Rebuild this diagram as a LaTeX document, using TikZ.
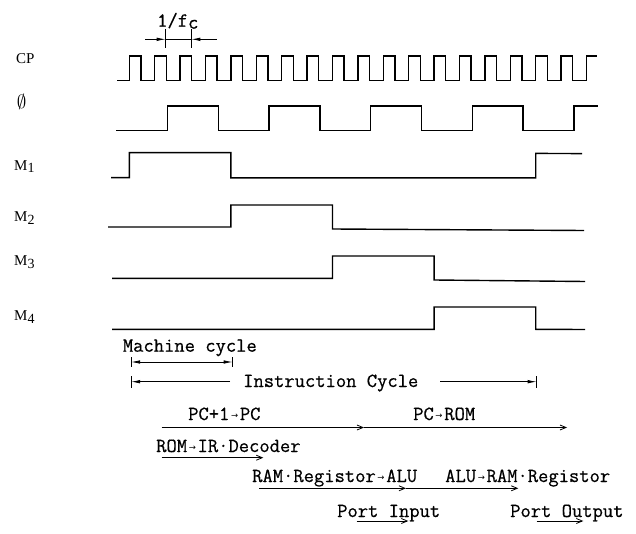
\documentclass[tikz,border=0pt]{standalone}
\usepackage{fontspec}
\newfontfamily\arrfont{DejaVu Sans}
\newfontfamily\lblfont{Liberation Serif}
\newfontfamily\monofont{Latin Modern Mono}[FakeBold=0.6]
\usetikzlibrary{arrows.meta}
\newcommand{\ra}{\makebox[0.525em]{\raisebox{1.5pt}{\arrfont\fontsize{8.5}{8.5}\selectfont →}}}
\begin{document}
\begin{tikzpicture}[x=1pt,y=-1pt,
  wave/.style={line width=1.4pt, line join=miter},
  lbl/.style={font=\lblfont\fontsize{15}{15}\selectfont, inner sep=0pt, anchor=base west},
  txt/.style={font=\monofont\fontsize{20}{20}\selectfont, inner sep=0pt, anchor=base west},
  flow/.style={line width=0.8pt, -{Straight Barb[length=6pt,width=5pt]}},
  dimarr/.style={line width=0.8pt, -{Latex[length=9pt,width=3.5pt]}},
  tick/.style={line width=0.8pt}]
\useasboundingbox (0,0) rectangle (636,534);
\fill[white] (0,0) rectangle (636,534);

% signal labels
\node[lbl] (lCP) at (16,63.5) {CP};
\node[inner sep=0pt] (lphi) at (21.5,101.5) {\scalebox{1.9}{$\emptyset$}};
\node[lbl] (lM1) at (14,170.5) {M\raisebox{-2pt}{\fontsize{14}{14}\selectfont 1}};
\node[lbl] (lM2) at (14,222) {M\raisebox{-2.5pt}{\fontsize{14}{14}\selectfont 2}};
\node[lbl] (lM3) at (14,265.5) {M\raisebox{-2.5pt}{\fontsize{14}{14}\selectfont 3}};
\node[lbl] (lM4) at (14,320.5) {M\raisebox{-2.5pt}{\fontsize{14}{14}\selectfont 4}};

% CP
\draw[wave] (117,80.7) -| (129.3,56)
  \foreach \k in {0,...,17}{ -- ++(11.5,0) -- ++(0,24.7) -- ++(13.9,0) -- ++(0,-24.7)}
  -- ++(10.5,0);
% phi
\draw[wave] (116,130.7) -| (167.4,106)
  \foreach \k in {0,...,3}{ -- ++(50.8,0) -- ++(0,24.7) -- ++(50.8,0) -- ++(0,-24.7)}
  -- ++(24.2,0);
% M1..M4
\draw[wave] (111,177.7) -| (129.3,152.7) -| (230.9,177.9) -| (535.7,153.4) -- (582,153.6);
\draw[wave] (108,227) -| (230.9,205) -| (332.5,229) -- (584,230.5);
\draw[wave] (112,278.3) -| (332.5,256) -| (434.1,280) -- (585,281.5);
\draw[wave] (112,329.3) -| (434.1,307) -| (535.7,329.3) -- (585,329.5);

% 1/fc
\node[txt] (lfc) at (157,26.7) {1/f\raisebox{-2pt}{c}};
\coordinate (fcL0) at (145,39.3);
\coordinate (fcA) at (165.7,39.3);
\coordinate (fcB) at (191.3,39.3);
\coordinate (fcR0) at (216.7,39.3);
\draw[tick] (165.7,29) -- (165.7,48);
\draw[tick] (191.3,29) -- (191.3,48);
\draw[tick] (fcA) -- (fcB);
\draw[dimarr] (fcL0) -- (fcA);
\draw[dimarr] (fcR0) -- (fcB);

% Machine cycle
\node[txt] (lmc) at (122.7,351.7) {Machine cycle};
\coordinate (mcL) at (131,362);
\coordinate (mcR) at (232.7,362);
\coordinate (mcM) at (182,362);
\draw[tick] (131,357) -- (131,367);
\draw[tick] (232.7,357) -- (232.7,367);
\draw[dimarr] (mcM) -- (mcL);
\draw[dimarr] (mcM) -- (mcR);

% Instruction cycle
\node[txt] (lic) at (243,387) {Instruction Cycle};
\coordinate (icL) at (131,381.7);
\coordinate (icL0) at (230,381.7);
\coordinate (icR0) at (440,381.7);
\coordinate (icR) at (536.7,381.7);
\draw[tick] (131,376) -- (131,388);
\draw[tick] (536.7,376) -- (536.7,388);
\draw[dimarr] (icL0) -- (icL);
\draw[dimarr] (icR0) -- (icR);

% operations
\node[txt] (lpc1) at (188,420) {PC+1\ra PC};
\node[txt] (lpcr) at (413,420) {PC\ra ROM};
\coordinate (p0) at (161.7,427.5);
\coordinate (p1) at (364,427.5);
\coordinate (p2) at (567,427.5);
\draw[flow] (p0) -- (p1);
\draw[flow] (p1) -- (p2);

\node[txt] (lrom) at (156,452) {ROM\ra IR{\char"00B7}Decoder};
\coordinate (r0) at (161.7,457.7);
\coordinate (r1) at (263.3,457.7);
\draw[flow] (r0) -- (r1);

\node[txt] (lram) at (252,482) {RAM{\char"00B7}Registor\ra ALU};
\node[txt] (lalu) at (445,482) {ALU\ra RAM{\char"00B7}Registor};
\coordinate (a0) at (259.3,488.3);
\coordinate (a1) at (406,488.3);
\coordinate (a2) at (518.3,488.3);
\draw[flow] (a0) -- (a1);
\draw[flow] (a1) -- (a2);

\node[txt] (lpin) at (337,517) {Port Input};
\coordinate (i0) at (356.7,521);
\coordinate (i1) at (408.3,521);
\draw[flow] (i0) -- (i1);

\node[txt] (lpout) at (510,517) {Port Output};
\coordinate (o0) at (536.7,521);
\coordinate (o1) at (583.3,521);
\draw[flow] (o0) -- (o1);
\end{tikzpicture}
\end{document}
